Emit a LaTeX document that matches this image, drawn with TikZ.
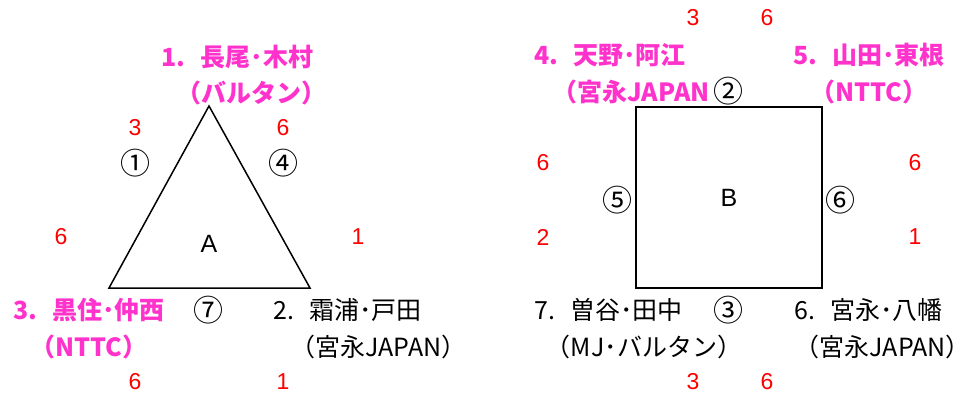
\documentclass[tikz,border=0pt]{standalone}
\usepackage{fontspec}
\setmainfont{Noto Sans CJK JP}
\newfontfamily\arialfont{Liberation Sans}
\usepackage{tikz}
\definecolor{teampink}{RGB}{255,51,204}
\tikzset{
  pairname/.style={inner sep=0pt,font=\fontsize{25}{28}\selectfont},
  pinkpair/.style={inner sep=0pt,text=teampink,font=\fontsize{25}{28}\selectfont\bfseries},
  score/.style={inner sep=0pt,text=red,font=\arialfont\fontsize{23}{24}\selectfont},
  matchno/.style={inner sep=0pt,font=\fontsize{30}{30}\selectfont},
  blockname/.style={inner sep=0pt,font=\arialfont\fontsize{25}{26}\selectfont}
}

\begin{document}
\begin{tikzpicture}[x=1pt,y=-1pt]
\useasboundingbox (0,0) rectangle (971,396);

% Block A
\coordinate (topA) at (209,106);
\coordinate (leftA) at (109,288);
\coordinate (rightA) at (310,288);
\draw[line width=1.5pt] (topA) -- (rightA) -- (leftA) -- cycle;
\node[blockname] (A) at (209,244) {A};

\node[pinkpair] (p1) at (237.5,57) {1.\hspace{0.6em}長尾･木村};
\node[pinkpair] (p1team) at (251.5,93) {（バルタン）};
\node[pinkpair] (p3) at (89,310) {3.\hspace{0.6em}黒住･仲西};
\node[pinkpair] (p3team) at (88.5,347) {（NTTC）};
\node[pairname] (p2) at (347.5,310) {2.\hspace{0.6em}霜浦･戸田};
\node[pairname] (p2team) at (378.5,347) {（宮永JAPAN）};

\node[matchno] (m1) at (135,163) {①};
\node[matchno] (m4) at (283,163) {④};
\node[matchno] (m7) at (208,310) {⑦};

\foreach \x/\y/\v [count=\i] in {135/128/3, 283/128/6, 61/237/6, 358/237/1, 135/382/6, 283/382/1}
  \node[score] (sA\i) at (\x,\y) {\v};

% Block B
\node[draw,line width=2.5pt,minimum width=186pt,minimum height=181pt,blockname] (B) at (729,197.5) {B};

\node[pinkpair] (p4) at (610,55) {4.\hspace{0.6em}天野･阿江};
\node[pinkpair,anchor=east] (p4team) at (710,92) {（宮永JAPAN};
\node[pinkpair] (p5) at (869,55) {5.\hspace{0.6em}山田･東根};
\node[pinkpair] (p5team) at (869,92) {（NTTC）};
\node[pairname] (p7) at (608.5,310) {7.\hspace{0.6em}曽谷･田中};
\node[pairname] (p7team) at (644,347) {（MJ･バルタン）};
\node[pairname] (p6) at (868.5,310) {6.\hspace{0.6em}宮永･八幡};
\node[pairname,anchor=east] (p6team) at (971,347) {（宮永JAPAN）};

\node[matchno] (m2) at (728,91) {②};
\node[matchno] (m5) at (617,200) {⑤};
\node[matchno] (m6) at (840,200) {⑥};
\node[matchno] (m3) at (728,310) {③};

\foreach \x/\y/\v [count=\i] in {693/18/3, 767/18/6, 543/163/6, 915/163/6, 543/237/2, 915/237/1, 693/382/3, 767/382/6}
  \node[score] (sB\i) at (\x,\y) {\v};
\end{tikzpicture}
\end{document}
